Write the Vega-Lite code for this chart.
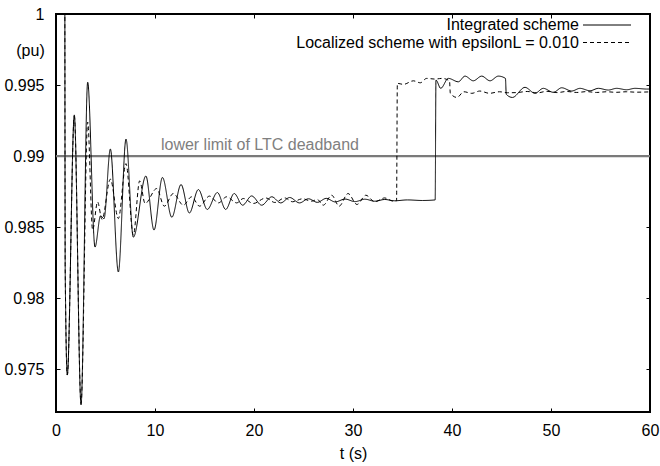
{
  "$schema": "https://vega.github.io/schema/vega-lite/v6.json",
  "width": 594,
  "height": 398,
  "autosize": "none",
  "padding": {"left": 56, "top": 14, "right": 10, "bottom": 54},
  "background": "white",
  "config": {
    "font": "Liberation Sans",
    "view": {"stroke": "black", "strokeWidth": 2},
    "axis": {
      "grid": false, "domain": false, "ticks": true, "tickSize": 4, "tickColor": "black", "tickWidth": 1, "offset": -4,
      "labelFontSize": 16, "labelColor": "black", "labelFont": "Liberation Sans", "labelFlush": false,
      "titleFontSize": 16, "titleFontWeight": "normal", "titleColor": "black", "titleFont": "Liberation Sans"
    }
  },
  "resolve": {"axis": {"x": "independent", "y": "independent"}},
  "datasets": {
    "curves": [
      {"t": 0, "v": 1.01, "s": "I"}, {"t": 0.87, "v": 1.01, "s": "I"}, {"t": 0.93, "v": 0.982, "s": "I"}, {"t": 1.14, "v": 0.9746, "s": "I"},
      {"t": 1.85, "v": 0.9929, "s": "I"}, {"t": 2.53, "v": 0.9725, "s": "I"}, {"t": 3.2, "v": 0.9952, "s": "I"}, {"t": 3.94, "v": 0.9836, "s": "I"},
      {"t": 4.5, "v": 0.9858, "s": "I"}, {"t": 4.85, "v": 0.9856, "s": "I"}, {"t": 5.49, "v": 0.9905, "s": "I"}, {"t": 6.3, "v": 0.98185, "s": "I"},
      {"t": 7.07, "v": 0.9912, "s": "I"}, {"t": 7.81, "v": 0.9843, "s": "I"}, {"t": 9.08, "v": 0.9886, "s": "I"}, {"t": 9.9, "v": 0.9848, "s": "I"},
      {"t": 10.75, "v": 0.9885, "s": "I"}, {"t": 11.7, "v": 0.9857, "s": "I"}, {"t": 12.63, "v": 0.988, "s": "I"}, {"t": 13.47, "v": 0.986, "s": "I"},
      {"t": 14.38, "v": 0.98765, "s": "I"}, {"t": 15.28, "v": 0.98625, "s": "I"}, {"t": 16.3, "v": 0.98744, "s": "I"}, {"t": 17.14, "v": 0.98625, "s": "I"},
      {"t": 18.0, "v": 0.98737, "s": "I"}, {"t": 18.85, "v": 0.98655, "s": "I"}, {"t": 19.76, "v": 0.9872, "s": "I"}, {"t": 20.78, "v": 0.98655, "s": "I"},
      {"t": 21.8, "v": 0.98714, "s": "I"}, {"t": 22.7, "v": 0.98671, "s": "I"}, {"t": 23.6, "v": 0.98709, "s": "I"}, {"t": 24.6, "v": 0.98671, "s": "I"},
      {"t": 25.5, "v": 0.987, "s": "I"}, {"t": 26.4, "v": 0.98675, "s": "I"}, {"t": 27.3, "v": 0.98703, "s": "I"}, {"t": 28.2, "v": 0.98678, "s": "I"},
      {"t": 29.2, "v": 0.98698, "s": "I"}, {"t": 30.2, "v": 0.9868, "s": "I"}, {"t": 31.2, "v": 0.98697, "s": "I"}, {"t": 32.2, "v": 0.98683, "s": "I"},
      {"t": 33.2, "v": 0.98695, "s": "I"}, {"t": 34.2, "v": 0.98686, "s": "I"}, {"t": 35.5, "v": 0.98692, "s": "I"}, {"t": 37.0, "v": 0.98688, "s": "I"},
      {"t": 38.3, "v": 0.98692, "s": "I"}, {"t": 38.38, "v": 0.99535, "s": "I"}, {"t": 38.86, "v": 0.99477, "s": "I"}, {"t": 39.63, "v": 0.99547, "s": "I"},
      {"t": 40.64, "v": 0.99523, "s": "I"}, {"t": 41.31, "v": 0.99563, "s": "I"}, {"t": 42.15, "v": 0.9953, "s": "I"}, {"t": 43.0, "v": 0.99563, "s": "I"},
      {"t": 43.84, "v": 0.9953, "s": "I"}, {"t": 44.68, "v": 0.99563, "s": "I"}, {"t": 45.4, "v": 0.99547, "s": "I"}, {"t": 45.48, "v": 0.99435, "s": "I"},
      {"t": 46.1, "v": 0.99413, "s": "I"}, {"t": 47.37, "v": 0.99484, "s": "I"}, {"t": 48.38, "v": 0.99442, "s": "I"}, {"t": 49.22, "v": 0.99477, "s": "I"},
      {"t": 50.24, "v": 0.99449, "s": "I"}, {"t": 51.08, "v": 0.99481, "s": "I"}, {"t": 52.09, "v": 0.99458, "s": "I"}, {"t": 52.93, "v": 0.99477, "s": "I"},
      {"t": 53.94, "v": 0.9946, "s": "I"}, {"t": 54.78, "v": 0.99477, "s": "I"}, {"t": 55.79, "v": 0.99465, "s": "I"}, {"t": 56.63, "v": 0.99477, "s": "I"},
      {"t": 57.64, "v": 0.99467, "s": "I"}, {"t": 58.48, "v": 0.99477, "s": "I"}, {"t": 59.67, "v": 0.99472, "s": "I"}, {"t": 60, "v": 0.99472, "s": "I"},

      {"t": 0, "v": 1.01, "s": "L"}, {"t": 0.87, "v": 1.01, "s": "L"}, {"t": 0.93, "v": 0.982, "s": "L"}, {"t": 1.14, "v": 0.9746, "s": "L"},
      {"t": 1.85, "v": 0.9928, "s": "L"}, {"t": 2.53, "v": 0.9726, "s": "L"}, {"t": 3.2, "v": 0.9924, "s": "L"}, {"t": 3.7, "v": 0.9848, "s": "L"},
      {"t": 4.2, "v": 0.98678, "s": "L"}, {"t": 4.65, "v": 0.98555, "s": "L"}, {"t": 5.49, "v": 0.98838, "s": "L"}, {"t": 6.3, "v": 0.98561, "s": "L"},
      {"t": 7.07, "v": 0.98948, "s": "L"}, {"t": 7.81, "v": 0.98444, "s": "L"}, {"t": 8.45, "v": 0.98826, "s": "L"}, {"t": 9.0, "v": 0.98667, "s": "L"},
      {"t": 10.17, "v": 0.98772, "s": "L"}, {"t": 10.94, "v": 0.98648, "s": "L"}, {"t": 11.85, "v": 0.98737, "s": "L"}, {"t": 12.86, "v": 0.98655, "s": "L"},
      {"t": 13.7, "v": 0.98714, "s": "L"}, {"t": 14.5, "v": 0.98648, "s": "L"}, {"t": 15.5, "v": 0.98719, "s": "L"}, {"t": 16.4, "v": 0.98671, "s": "L"},
      {"t": 17.24, "v": 0.98714, "s": "L"}, {"t": 18.25, "v": 0.98671, "s": "L"}, {"t": 18.92, "v": 0.98702, "s": "L"}, {"t": 19.93, "v": 0.98667, "s": "L"},
      {"t": 21.2, "v": 0.98706, "s": "L"}, {"t": 22.1, "v": 0.98674, "s": "L"}, {"t": 23.1, "v": 0.98706, "s": "L"}, {"t": 23.9, "v": 0.98679, "s": "L"},
      {"t": 24.9, "v": 0.987, "s": "L"}, {"t": 25.8, "v": 0.98683, "s": "L"}, {"t": 26.4, "v": 0.98695, "s": "L"}, {"t": 27.0, "v": 0.98655, "s": "L"},
      {"t": 27.85, "v": 0.98725, "s": "L"}, {"t": 28.6, "v": 0.98648, "s": "L"}, {"t": 29.5, "v": 0.98737, "s": "L"}, {"t": 30.4, "v": 0.9866, "s": "L"},
      {"t": 31.3, "v": 0.98725, "s": "L"}, {"t": 32.2, "v": 0.98679, "s": "L"}, {"t": 33.2, "v": 0.98706, "s": "L"}, {"t": 34.07, "v": 0.98683, "s": "L"},
      {"t": 34.4, "v": 0.98686, "s": "L"}, {"t": 34.48, "v": 0.99512, "s": "L"}, {"t": 35.1, "v": 0.99505, "s": "L"}, {"t": 36.1, "v": 0.9953, "s": "L"},
      {"t": 36.8, "v": 0.99516, "s": "L"}, {"t": 37.44, "v": 0.99547, "s": "L"}, {"t": 38.3, "v": 0.99542, "s": "L"}, {"t": 38.97, "v": 0.99547, "s": "L"},
      {"t": 39.75, "v": 0.9953, "s": "L"}, {"t": 39.83, "v": 0.99442, "s": "L"}, {"t": 40.5, "v": 0.99413, "s": "L"}, {"t": 41.2, "v": 0.99453, "s": "L"},
      {"t": 42.0, "v": 0.99442, "s": "L"}, {"t": 42.8, "v": 0.99458, "s": "L"}, {"t": 43.8, "v": 0.99442, "s": "L"}, {"t": 44.8, "v": 0.99453, "s": "L"},
      {"t": 45.6, "v": 0.99446, "s": "L"}, {"t": 46.5, "v": 0.99447, "s": "L"}, {"t": 47.6, "v": 0.99455, "s": "L"}, {"t": 48.6, "v": 0.99445, "s": "L"},
      {"t": 49.6, "v": 0.99456, "s": "L"}, {"t": 50.6, "v": 0.99447, "s": "L"}, {"t": 51.6, "v": 0.99455, "s": "L"}, {"t": 52.6, "v": 0.99448, "s": "L"},
      {"t": 53.6, "v": 0.99454, "s": "L"}, {"t": 54.6, "v": 0.99448, "s": "L"}, {"t": 55.6, "v": 0.99453, "s": "L"}, {"t": 56.6, "v": 0.99449, "s": "L"},
      {"t": 57.6, "v": 0.99453, "s": "L"}, {"t": 58.6, "v": 0.9945, "s": "L"}, {"t": 60, "v": 0.99452, "s": "L"}
    ]
  },
  "layer": [
    {
      "data": {"values": [{"label": "lower limit of LTC deadband", "level": 0.99, "start": 10.6}]},
      "mark": {"type": "rule", "color": "#7a7a7a", "strokeWidth": 2.2},
      "encoding": {"y": {"field": "level", "type": "quantitative",
        "axis": {"orient": "right", "labels": false, "title": null, "values": [0.975, 0.98, 0.985, 0.99, 0.995, 1.0]}}}
    },
    {
      "data": {"values": [{"label": "lower limit of LTC deadband", "level": 0.99, "start": 10.6}]},
      "mark": {"type": "text", "color": "#808080", "fontSize": 16, "font": "Liberation Sans", "align": "left", "baseline": "alphabetic", "dy": -6},
      "encoding": {
        "x": {"field": "start", "type": "quantitative",
          "axis": {"orient": "top", "labels": false, "title": null, "values": [0, 10, 20, 30, 40, 50, 60]}},
        "y": {"field": "level", "type": "quantitative", "axis": null},
        "text": {"field": "label"}
      }
    },
    {
      "data": {"name": "curves"},
      "mark": {"type": "line", "clip": true, "interpolate": "monotone", "color": "black", "strokeWidth": 1},
      "encoding": {
        "x": {"field": "t", "type": "quantitative", "scale": {"domain": [0, 60], "nice": false, "zero": false},
          "axis": {"title": "t (s)", "values": [0, 10, 20, 30, 40, 50, 60], "labelPadding": 10, "titleY": 45, "titleBaseline": "middle"}},
        "y": {"field": "v", "type": "quantitative", "scale": {"domain": [0.972, 1.0], "nice": false, "zero": false},
          "axis": {"title": "(pu)", "values": [0.975, 0.98, 0.985, 0.99, 0.995, 1.0], "format": "~g", "labelPadding": 12,
            "titleAngle": 0, "titleX": -30, "titleY": 36, "titleAlign": "center", "titleBaseline": "middle"}},
        "strokeDash": {"field": "s", "type": "nominal",
          "scale": {"domain": ["I", "L"], "range": [[1, 0], [4, 3]]},
          "legend": {"title": null, "orient": "none", "legendX": 542.5, "legendY": 2.5,
            "symbolType": "M-3,0H3", "symbolSize": 256, "symbolStrokeColor": "black", "symbolStrokeWidth": 1, "symbolFillColor": "transparent",
            "labelAlign": "right", "labelOffset": -36.5, "labelFontSize": 16, "labelColor": "black", "labelFont": "Liberation Sans",
            "labelLimit": 0, "rowPadding": 0.5,
            "labelExpr": "datum.label == 'I' ? 'Integrated scheme' : 'Localized scheme with epsilonL = 0.010'"}}
      }
    }
  ]
}
